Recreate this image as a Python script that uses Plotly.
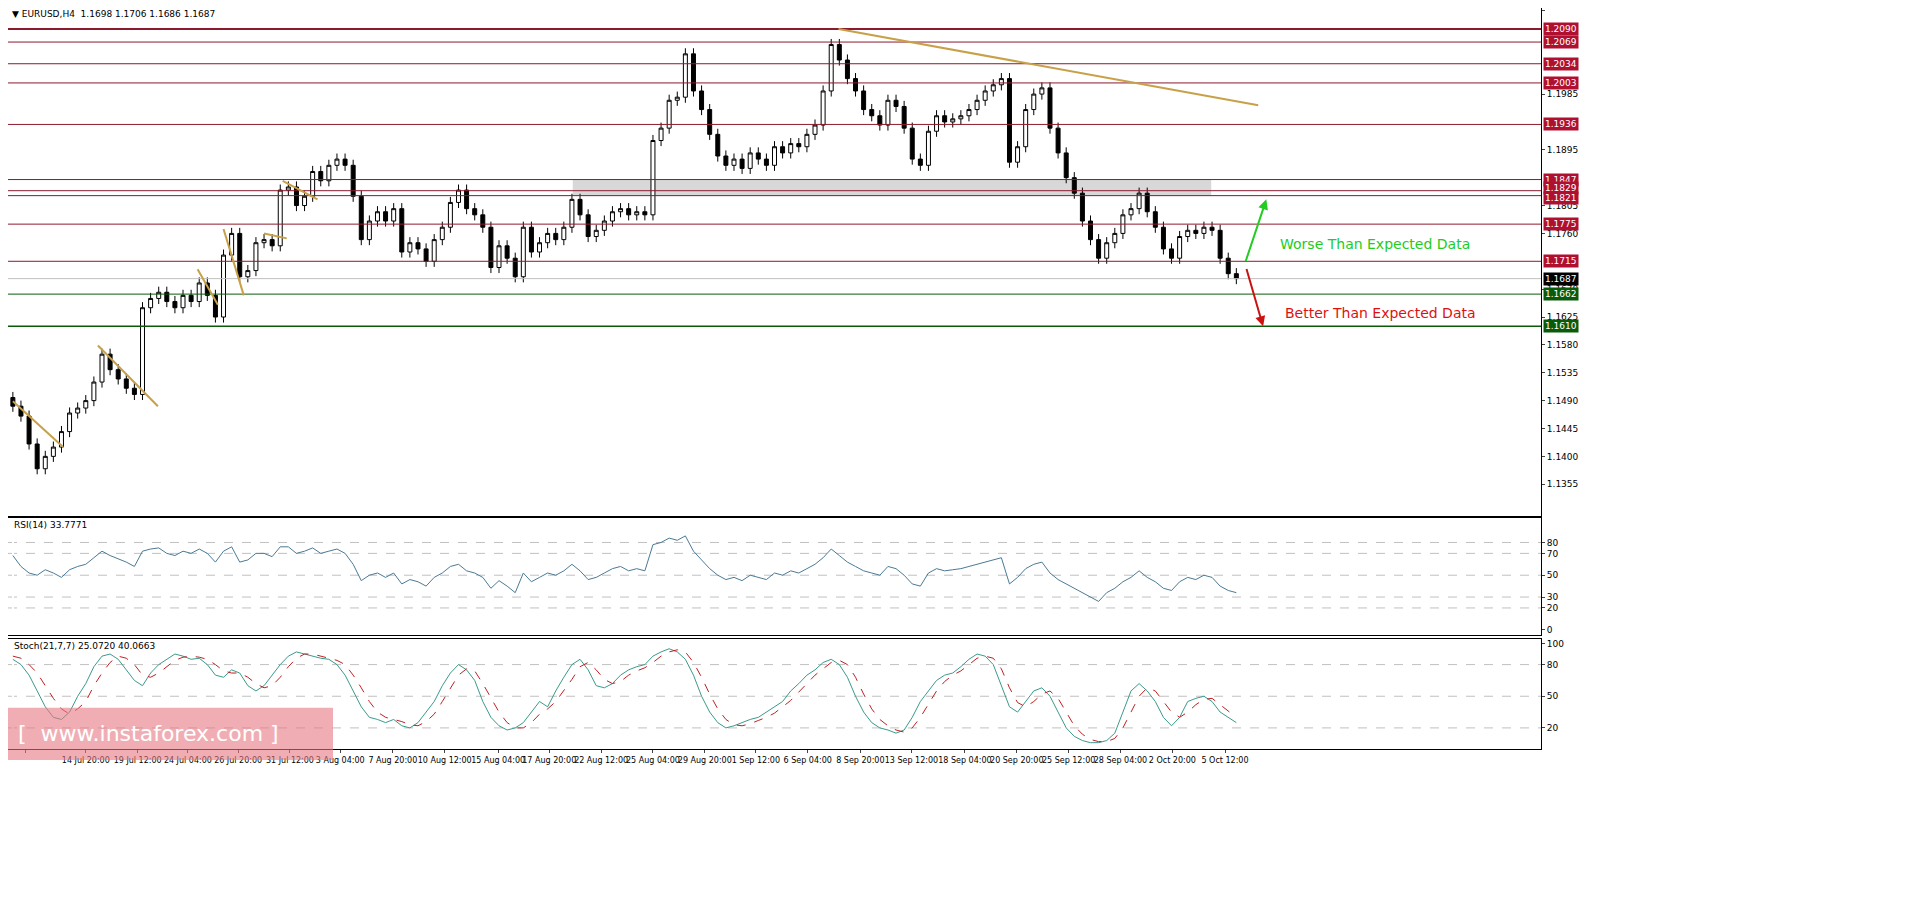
import plotly.graph_objects as go
from plotly.subplots import make_subplots

closes = [1.1481,1.1465,1.1420,1.1380,1.1400,1.1415,1.1440,1.1470,1.1478,1.1490,
1.1520,1.1565,1.1540,1.1525,1.1510,1.1500,1.1640,1.1655,1.1665,1.1650,
1.1640,1.1660,1.1650,1.1680,1.1660,1.1625,1.1725,1.1760,1.1690,1.1700,
1.1745,1.1750,1.1740,1.1830,1.1835,1.1805,1.1820,1.1860,1.1845,1.1870,
1.1880,1.1870,1.1820,1.1750,1.1780,1.1795,1.1780,1.1800,1.1730,1.1745,
1.1735,1.1715,1.1750,1.1770,1.1810,1.1830,1.1800,1.1790,1.1770,1.1705,
1.1740,1.1720,1.1690,1.1770,1.1730,1.1745,1.1760,1.1750,1.1770,1.1815,
1.1790,1.1755,1.1765,1.1780,1.1795,1.1800,1.1790,1.1795,1.1790,1.1910,
1.1930,1.1975,1.1980,1.2050,1.1990,1.1960,1.1920,1.1885,1.1870,1.1880,
1.1865,1.1890,1.1880,1.1870,1.1900,1.1890,1.1905,1.1900,1.1920,1.1935,
1.1990,1.2065,1.2040,1.2010,1.1990,1.1960,1.1950,1.1935,1.1975,1.1965,
1.1930,1.1880,1.1870,1.1925,1.1950,1.1940,1.1945,1.1950,1.1960,1.1975,
1.1990,1.2000,1.2010,1.1875,1.1900,1.1960,1.1985,1.1995,1.1930,1.1890,
1.1850,1.1825,1.1780,1.1750,1.1720,1.1745,1.1760,1.1790,1.1800,1.1825,
1.1795,1.1770,1.1735,1.1720,1.1755,1.1765,1.1760,1.1770,1.1765,1.1720,
1.1695,1.1687]
first_open = 1.1495

rsi = [68,58,52,50,55,52,48,55,58,60, 66,72,68,65,62,58,72,74,75,70,
68,72,70,74,70,62,72,76,62,64, 70,70,67,76,76,70,72,75,70,72,
74,70,60,45,50,52,48,52,42,46, 44,40,48,52,58,60,54,52,48,38,
45,40,34,52,44,48,52,50,54,60, 54,46,48,52,56,58,54,56,54,78,
80,84,82,86,72,64,56,50,46,48, 45,50,48,46,52,50,54,52,56,60,
66,74,68,62,58,54,52,50,58,56, 50,42,40,52,56,54,55,56,58,60,
62,64,66,42,48,56,60,62,52,46, 42,38,34,30,26,34,38,44,48,54,
48,44,38,36,44,48,46,50,48,40, 36,34]

stoch_main = [85,80,70,55,40,30,28,35,50,62, 78,88,90,85,75,65,60,72,80,85,
90,88,85,86,80,70,68,75,72,60, 55,60,70,80,88,92,90,88,86,85,
80,70,55,40,30,28,25,28,22,20, 25,35,45,60,72,80,75,65,45,30,
22,18,20,25,35,45,40,55,68,80, 85,75,60,58,62,70,75,78,80,88,
92,95,92,85,70,50,35,25,20,22, 25,28,30,35,40,45,55,62,70,75,
82,85,80,68,50,35,25,20,18,15, 18,30,45,55,65,70,72,78,85,90,
88,80,60,40,35,45,55,58,50,35, 20,12,8,6,6,8,15,35,55,62,
55,45,30,22,30,45,48,50,45,35, 30,25]
stoch_signal = [88,86,80,72,60,48,38,33,38,45, 60,72,82,88,86,80,70,68,72,78,
84,87,88,87,85,80,74,72,72,68, 62,58,60,68,78,86,90,90,88,86,
84,80,70,58,45,35,30,28,26,23, 22,26,33,45,58,70,76,74,62,48,
35,25,20,20,25,33,38,45,55,66, 78,82,75,66,62,64,70,74,77,82,
88,92,94,92,82,68,52,38,28,23, 22,24,27,30,34,40,46,54,62,70,
76,82,84,80,68,52,38,28,22,18, 16,20,30,42,55,64,70,74,80,86,
88,86,76,58,44,40,45,52,55,48, 35,22,14,9,7,7,10,20,35,50,
58,55,45,35,30,35,42,47,48,42, 36,30]

date_labels = ["12 Jul 2017","14 Jul 20:00","19 Jul 12:00","24 Jul 04:00","26 Jul 20:00",
"31 Jul 12:00","3 Aug 04:00","7 Aug 20:00","10 Aug 12:00","15 Aug 04:00","17 Aug 20:00",
"22 Aug 12:00","25 Aug 04:00","29 Aug 20:00","1 Sep 12:00","6 Sep 04:00","8 Sep 20:00",
"13 Sep 12:00","18 Sep 04:00","20 Sep 20:00","25 Sep 12:00","28 Sep 04:00","2 Oct 20:00","5 Oct 12:00"]
date_pos = [1.5,9,15.4,21.6,27.8,34.2,40.4,46.9,53.3,59.9,66.2,72.6,79,85.4,91.7,98.1,104.6,110.9,117.5,123.9,130.3,136.7,143.1,149.6]

resistance_levels = [1.2090,1.2069,1.2034,1.2003,1.1936,1.1847,1.1829,1.1821,1.1775,1.1715]
support_levels = [1.1662,1.1610]
current_price = 1.1687
price_ticks = [1.2120,1.1985,1.1895,1.1805,1.1760,1.1670,1.1625,1.1580,1.1535,1.1490,1.1445,1.1400,1.1355]

n = len(closes)
x = list(range(n))
opens = [first_open] + closes[:-1]
highs = [max(o, c) + 0.0009 for o, c in zip(opens, closes)]
lows = [min(o, c) - 0.0009 for o, c in zip(opens, closes)]

FONT = "DejaVu Sans"
fig = make_subplots(rows=3, cols=1, shared_xaxes=True, vertical_spacing=0.005)
fig.add_trace(go.Candlestick(x=x, open=opens, high=highs, low=lows, close=closes,
    increasing=dict(line=dict(color="black", width=1), fillcolor="white"),
    decreasing=dict(line=dict(color="black", width=1), fillcolor="black"),
    whiskerwidth=0, showlegend=False, hoverinfo="skip"), row=1, col=1)
fig.add_trace(go.Scatter(x=x, y=rsi, mode="lines", line=dict(color="#4a7a95", width=1), showlegend=False), row=2, col=1)
fig.add_trace(go.Scatter(x=x, y=stoch_main, mode="lines", line=dict(color="#3a9a8a", width=1), showlegend=False), row=3, col=1)
fig.add_trace(go.Scatter(x=x, y=stoch_signal, mode="lines", line=dict(color="#c02020", width=1, dash="dash"), showlegend=False), row=3, col=1)

xr = [-0.6, 188.6]
W = 1533.0
def yp(py):
    return (741 - py) / 736.0

fig.update_layout(
    width=1916, height=924, margin=dict(l=0, r=383, t=0, b=183),
    paper_bgcolor="white", plot_bgcolor="white", font=dict(family=FONT, size=9, color="black"),
    xaxis=dict(range=xr, rangeslider=dict(visible=False), showgrid=False, showticklabels=False,
               showline=True, linecolor="black", mirror=True, ticks=""),
    xaxis2=dict(range=xr, showgrid=False, showticklabels=False, showline=True, linecolor="black", mirror=True),
    xaxis3=dict(range=xr, showgrid=False, tickvals=date_pos, ticktext=date_labels, ticks="outside",
                ticklen=3, tickangle=0, showline=True, linecolor="black", mirror=True, tickfont=dict(size=8)),
    yaxis=dict(domain=[yp(510), yp(5)], range=[1.1303, 1.2124], side="right", tickvals=price_ticks,
               tickformat=".4f", showgrid=False, showline=True, linecolor="black", mirror=True, ticks="outside", ticklen=3),
    yaxis2=dict(domain=[yp(628), yp(512)], range=[-5, 102], side="right", tickvals=[0,20,30,50,70,80],
                showgrid=False, showline=True, linecolor="black", mirror=True, ticks="outside", ticklen=3),
    yaxis3=dict(domain=[yp(741), yp(632)], range=[0, 104], side="right", tickvals=[20,50,80,100],
                showgrid=False, showline=True, linecolor="black", mirror=True, ticks="outside", ticklen=3),
)

shapes = []
shapes.append(dict(type="rect", xref="x", yref="y", x0=69.1, x1=147.9, y0=1.1821, y1=1.1847,
                   fillcolor="#d8d8d8", line=dict(width=0), layer="below"))
for i, lv in enumerate(resistance_levels):
    shapes.append(dict(type="line", xref="paper", yref="y", x0=0, x1=1, y0=lv, y1=lv,
                       line=dict(color="#8b1a2e", width=2 if i == 0 else 1)))
for lv in support_levels:
    shapes.append(dict(type="line", xref="paper", yref="y", x0=0, x1=1, y0=lv, y1=lv,
                       line=dict(color="#0a5a0a", width=1.5 if lv == 1.1610 else 1)))
shapes.append(dict(type="line", xref="paper", yref="y", x0=0, x1=1, y0=current_price, y1=current_price,
                   line=dict(color="#c0c0c0", width=1)))
trend = [(101.9, 1.2090, 153.7, 1.1967), (0, 1.1489, 6.2, 1.1415), (10.5, 1.1579, 17.9, 1.1481),
         (22.8, 1.1702, 25.3, 1.1645), (26, 1.1767, 28.5, 1.1660), (31, 1.1760, 33.8, 1.1752),
         (33.3, 1.1845, 37.6, 1.1815)]
for x0, y0, x1, y1 in trend:
    shapes.append(dict(type="line", xref="x", yref="y", x0=x0, y0=y0, x1=x1, y1=y1,
                       line=dict(color="#c8a048", width=2)))
for lv in [80, 70, 50, 30, 20]:
    shapes.append(dict(type="line", xref="paper", yref="y2", x0=0, x1=1, y0=lv, y1=lv,
                       line=dict(color="#c0c0c0", width=1, dash="dash"), layer="below"))
for lv in [80, 50, 20]:
    shapes.append(dict(type="line", xref="paper", yref="y3", x0=0, x1=1, y0=lv, y1=lv,
                       line=dict(color="#c0c0c0", width=1, dash="dash"), layer="below"))
shapes.append(dict(type="rect", xref="paper", yref="paper", x0=0, x1=325 / W, y0=yp(752), y1=yp(700),
                   fillcolor="rgba(230,120,130,0.6)", line=dict(width=0)))
fig.update_layout(shapes=shapes)

ann = []
for lv in resistance_levels:
    ys = 3 if lv == 1.1829 else (-2 if lv == 1.1821 else 0)
    ann.append(dict(xref="paper", yref="y", x=1.0, y=lv, text=f"{lv:.4f}", showarrow=False, xanchor="left",
                    xshift=2, yshift=ys, bgcolor="#b01030", font=dict(color="white", size=9), borderpad=1))
for lv in support_levels:
    ann.append(dict(xref="paper", yref="y", x=1.0, y=lv, text=f"{lv:.4f}", showarrow=False, xanchor="left",
                    xshift=2, bgcolor="#0a5a0a", font=dict(color="white", size=9), borderpad=1))
ann.append(dict(xref="paper", yref="y", x=1.0, y=current_price, text=f"{current_price:.4f}", showarrow=False,
                xanchor="left", xshift=2, bgcolor="black", font=dict(color="white", size=9), borderpad=1))
ann.append(dict(xref="paper", yref="paper", x=2 / W, y=yp(11), text="▼ EURUSD,H4  1.1698 1.1706 1.1686 1.1687",
                showarrow=False, xanchor="left", yanchor="middle", font=dict(size=9)))
ann.append(dict(xref="paper", yref="paper", x=4 / W, y=yp(519), text="RSI(14) 33.7771",
                showarrow=False, xanchor="left", yanchor="middle", font=dict(size=9)))
ann.append(dict(xref="paper", yref="paper", x=4 / W, y=yp(639), text="Stoch(21,7,7) 25.0720 40.0663",
                showarrow=False, xanchor="left", yanchor="middle", font=dict(size=9)))
ann.append(dict(xref="x", yref="y", x=156.2, y=1.1743, text="Worse Than Expected Data", showarrow=False,
                xanchor="left", font=dict(size=14, color="#22cc22")))
ann.append(dict(xref="x", yref="y", x=156.8, y=1.1631, text="Better Than Expected Data", showarrow=False,
                xanchor="left", font=dict(size=14, color="#dd1111")))
ann.append(dict(xref="x", yref="y", x=154.7, y=1.1815, ax=152.1, ay=1.1713, axref="x", ayref="y",
                showarrow=True, arrowhead=2, arrowsize=1, arrowwidth=2, arrowcolor="#22cc22", text=""))
ann.append(dict(xref="x", yref="y", x=154.3, y=1.1610, ax=152.2, ay=1.1705, axref="x", ayref="y",
                showarrow=True, arrowhead=2, arrowsize=1, arrowwidth=2, arrowcolor="#cc1111", text=""))
ann.append(dict(xref="paper", yref="paper", x=8 / W, y=yp(726), text="[  www.instaforex.com ]",
                showarrow=False, xanchor="left", yanchor="middle", font=dict(size=22, color="white")))
fig.update_layout(annotations=ann)

fig.write_html("out.html")
